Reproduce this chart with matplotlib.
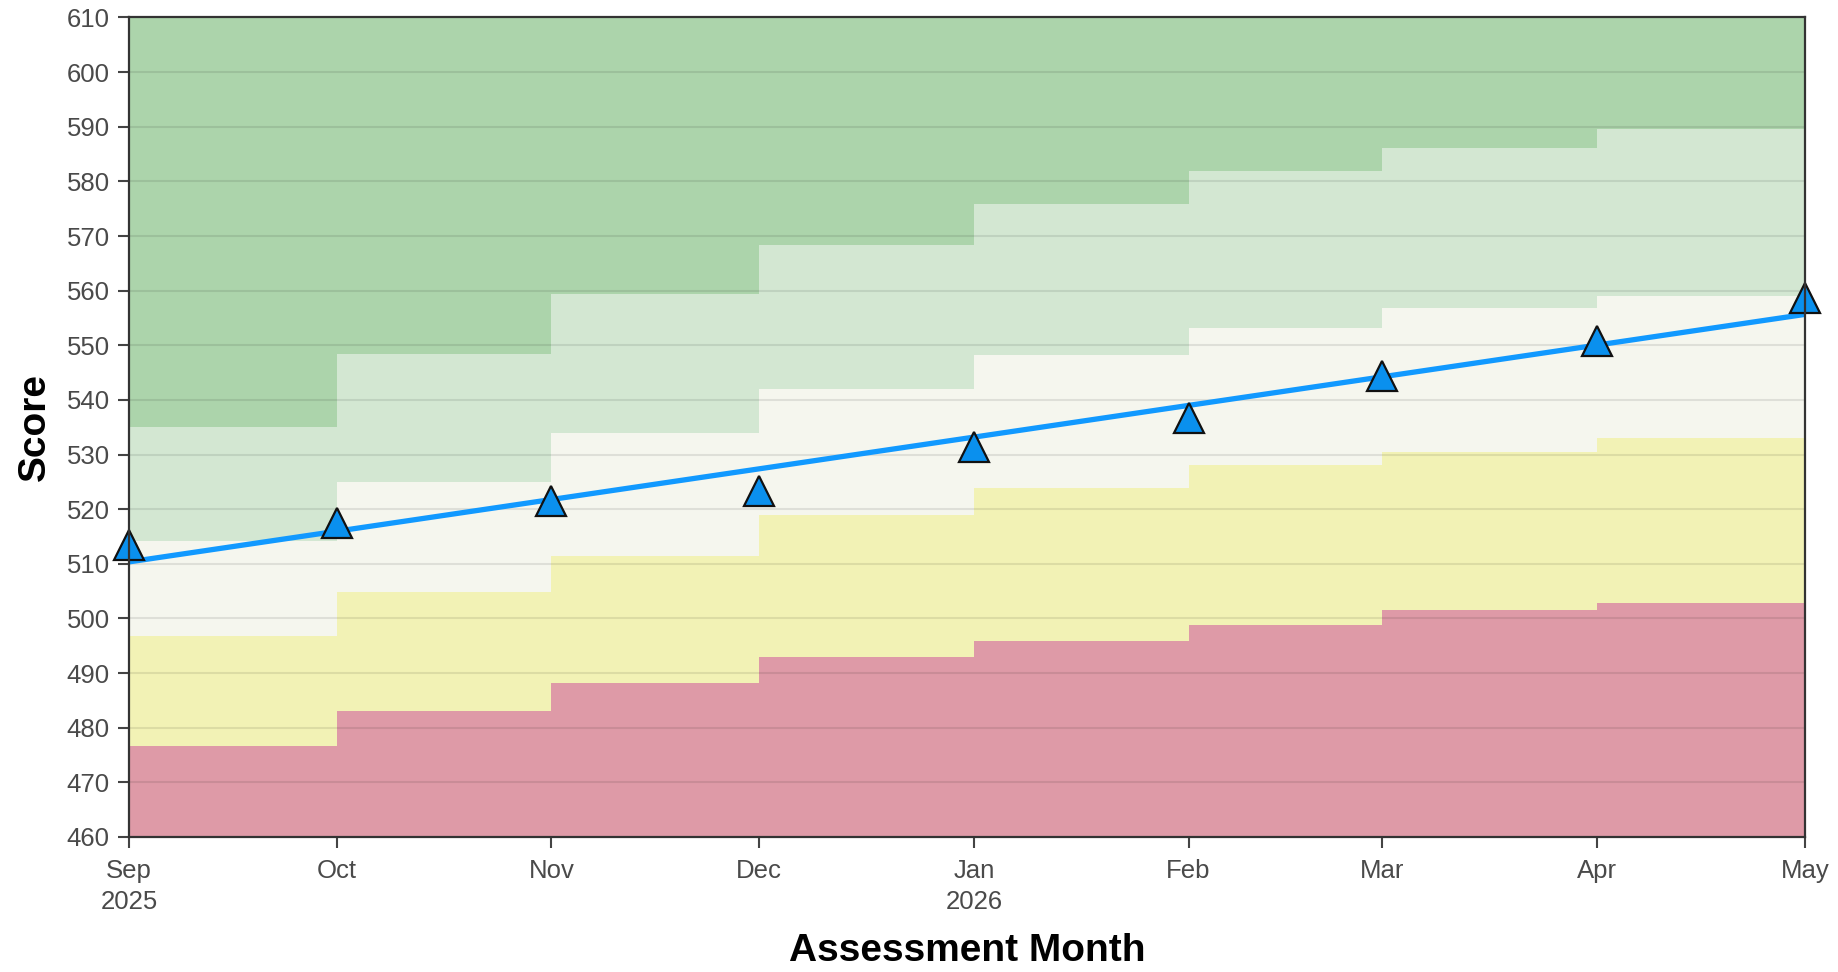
import datetime as dt
import numpy as np
import matplotlib
matplotlib.use('Agg')
import matplotlib.pyplot as plt
import matplotlib.dates as mdates

# meses de evaluacion (inicio de cada mes)
months = [dt.date(2025, 9, 1), dt.date(2025, 10, 1), dt.date(2025, 11, 1),
          dt.date(2025, 12, 1), dt.date(2026, 1, 1), dt.date(2026, 2, 1),
          dt.date(2026, 3, 1), dt.date(2026, 4, 1), dt.date(2026, 5, 1)]

# limites de las bandas por mes (escalon, el ultimo valor se repite hasta May)
red_top = [476.7, 483.0, 488.1, 493.0, 495.8, 498.8, 501.6, 502.9, 502.9]
yellow_top = [496.7, 504.8, 511.5, 519.0, 523.9, 528.0, 530.4, 533.0, 533.0]
white_top = [514.1, 525.0, 534.0, 542.0, 548.2, 553.1, 556.8, 559.1, 559.1]
lgreen_top = [535.1, 548.4, 559.4, 568.4, 575.9, 581.9, 586.2, 589.6, 589.6]

# puntajes del alumno
scores = [513.4, 517.4, 521.5, 523.4, 531.4, 536.7, 544.4, 550.7, 558.7]

y_min, y_max = 460, 610

fig = plt.figure(figsize=(18.38, 9.72), dpi=100)
ax = fig.add_axes([0.0702, 0.1389, 0.9118, 0.8431])

x = mdates.date2num(months)
bottom = np.full(len(x), y_min)
top = np.full(len(x), y_max)

ax.fill_between(x, bottom, red_top, step='post', color='#de9aa7', lw=0)
ax.fill_between(x, red_top, yellow_top, step='post', color='#f2f2b5', lw=0)
ax.fill_between(x, yellow_top, white_top, step='post', color='#f5f6ee', lw=0)
ax.fill_between(x, white_top, lgreen_top, step='post', color='#d3e7d2', lw=0)
ax.fill_between(x, lgreen_top, top, step='post', color='#acd4ab', lw=0)

# lineas horizontales
for yv in range(y_min + 10, y_max, 10):
    ax.axhline(yv, color='#000000', alpha=0.09, lw=1.5, zorder=2)

# tendencia (ajuste lineal de los puntajes)
days = x - x[0]
slope, inter = np.polyfit(days, scores, 1)
ax.plot([x[0], x[-1]], [inter, inter + slope * days[-1]], color='#1199ff',
        lw=3.8, zorder=3, solid_capstyle='butt')

ax.plot(x, scores, linestyle='none', marker='^', markersize=22,
        markerfacecolor='#0a90ee', markeredgecolor='#111111',
        markeredgewidth=1.6, zorder=4, clip_on=False)

ax.set_xlim(x[0], x[-1])
ax.set_ylim(y_min, y_max)
ax.set_yticks(range(y_min, y_max + 1, 10))

labels = []
for m in months:
    if m.month == 9 or m.month == 1:
        labels.append(m.strftime('%b') + '\n' + str(m.year))
    else:
        labels.append(m.strftime('%b'))
ax.set_xticks(x)
ax.set_xticklabels(labels, linespacing=1.35)

for lab in ax.get_xticklabels() + ax.get_yticklabels():
    lab.set_family('Liberation Sans')
    lab.set_fontsize(18.5)
    lab.set_color('#4a4a4a')

ax.tick_params(axis='both', length=8, width=1.5, color='#444444')
ax.tick_params(axis='x', pad=8)
ax.tick_params(axis='y', pad=6)

for s in ax.spines.values():
    s.set_color('#333333')
    s.set_linewidth(1.6)
    s.set_zorder(5)

ax.set_xlabel('Assessment Month', fontsize=28, fontweight='bold',
              family='Liberation Sans', labelpad=14)
ax.set_ylabel('Score', fontsize=28, fontweight='bold',
              family='Liberation Sans', labelpad=10)

fig.savefig('out.png', dpi=100)
